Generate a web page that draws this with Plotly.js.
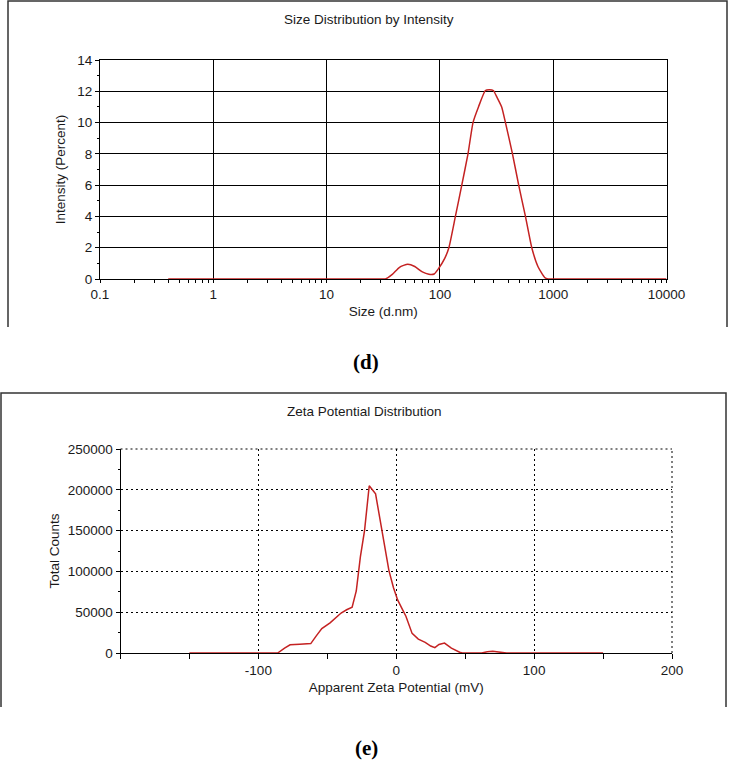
<!DOCTYPE html>
<html>
<head>
<meta charset="utf-8">
<script src="https://cdn.plot.ly/plotly-3.0.1.min.js"></script>
<style>
html,body{margin:0;padding:0;background:#fff;}
#chart{width:729px;height:764px;}
</style>
</head>
<body>
<div id="chart"></div>
<script>
// ---- Data: Size distribution by intensity (panel d) ----
const sizeNm = [0.4, 1, 10, 30, 33, 38, 44, 52, 60, 70, 80, 89, 98, 110, 120, 137, 156, 177, 196, 219, 252, 274, 296, 320, 351, 379, 437, 496, 569, 647, 733, 840, 900, 1000, 10000];
const intensityPct = [0, 0, 0, 0, 0, 0.3, 0.75, 0.95, 0.8, 0.45, 0.3, 0.32, 0.7, 1.3, 2.0, 4.0, 6.0, 8.0, 10.0, 11.0, 12.05, 12.1, 12.05, 11.6, 11.0, 10.0, 8.0, 6.0, 4.0, 2.0, 0.8, 0.1, 0, 0, 0];
const sizeTickVals = [0.1, 1, 10, 100, 1000, 10000];
const sizeTickText = ['0.1', '1', '10', '100', '1000', '10000'];

// ---- Data: Zeta potential distribution (panel e) ----
const zetaMv = [-150, -86, -81, -77, -70, -64, -62, -58, -54, -48, -44, -40, -36, -32, -29, -26, -23, -19.6, -15, -10, -5.3, -2, 1, 4, 7, 11.5, 16, 21, 25, 28, 31, 35, 40, 46, 48, 62, 66, 70, 74, 80, 150];
const totalCounts = [0, 0, 6000, 10000, 10800, 11000, 11500, 21000, 30000, 37000, 43000, 49000, 53000, 56000, 76000, 118000, 150000, 205000, 195000, 146000, 101000, 80000, 65000, 55000, 45000, 24000, 17000, 13000, 8500, 6500, 10500, 12200, 6000, 1000, 0, 0, 1500, 2000, 1500, 0, 0];
const zetaTickVals = [-100, 0, 100, 200];
const zetaTickText = ['-100', '0', '100', '200'];

// ---- Layout helpers (pixel -> paper) ----
const W = 729, H = 764;
const px = x => x / W;
const py = y => 1 - y / H;

const FONT = 'Liberation Sans, Arial, sans-serif';
const tickFont = {family: FONT, size: 13.5, color: '#1a1a1a'};
const titleFont = {family: FONT, size: 13.5, color: '#1a1a1a'};
const lineColor = '#c42222';
const DOTS = '2px,3px';

const minorSize = [];
[0.1, 1, 10, 100, 1000].forEach(d => { for (let k = 2; k <= 9; k++) minorSize.push(d * k); });

const topX = [px(100), px(666.5)];
const topY = [py(279), py(60)];
const botX = [px(120.5), px(672)];
const botY = [py(653), py(449)];

const traces = [
  {x: sizeNm, y: intensityPct, xaxis: 'x', yaxis: 'y', type: 'scatter', mode: 'lines',
   line: {color: lineColor, width: 1.5, shape: 'spline', smoothing: 0.5}, hoverinfo: 'x+y'},
  {x: zetaMv, y: totalCounts, xaxis: 'x2', yaxis: 'y2', type: 'scatter', mode: 'lines',
   line: {color: lineColor, width: 1.5}, hoverinfo: 'x+y'}
];

const layout = {
  width: W, height: H,
  margin: {l: 0, r: 0, t: 0, b: 0},
  paper_bgcolor: '#fff', plot_bgcolor: '#fff',
  showlegend: false,
  font: {family: FONT, color: '#1a1a1a'},
  // ---- panel d axes ----
  xaxis: {
    domain: topX, anchor: 'y', type: 'log', range: [-1, 4],
    tickvals: sizeTickVals, ticktext: sizeTickText, tickfont: tickFont,
    ticks: 'outside', ticklen: 3, tickcolor: '#000',
    minor: {tickvals: minorSize, ticks: 'outside', ticklen: 3, tickcolor: '#000', showgrid: false},
    showline: true, linecolor: '#000', linewidth: 1, mirror: true,
    showgrid: true, gridcolor: '#000', gridwidth: 1, zeroline: false,
    title: {text: 'Size (d.nm)', font: titleFont, standoff: 5}
  },
  yaxis: {
    domain: topY, anchor: 'x', range: [0, 14], dtick: 2, tickfont: tickFont,
    ticks: 'outside', ticklen: 4, tickcolor: '#000',
    minor: {dtick: 1, ticks: 'outside', ticklen: 2, tickcolor: '#000', showgrid: false},
    showline: true, linecolor: '#000', linewidth: 1, mirror: true,
    showgrid: true, gridcolor: '#000', gridwidth: 1, zeroline: false,
    title: {text: 'Intensity (Percent)', font: titleFont, standoff: 8}
  },
  xaxis3: {
    overlaying: 'x', anchor: 'y', type: 'log', range: [-1, 4], side: 'bottom',
    tickvals: [], showticklabels: false,
    minor: {tickvals: minorSize, ticks: 'inside', ticklen: 3, tickcolor: '#000', showgrid: false},
    showline: false, showgrid: false, zeroline: false
  },
  yaxis3: {
    overlaying: 'y', anchor: 'x', range: [0, 14], side: 'left',
    tickvals: [], showticklabels: false,
    minor: {dtick: 1, ticks: 'inside', ticklen: 4, tickcolor: '#000', showgrid: false},
    showline: false, showgrid: false, zeroline: false
  },
  // ---- panel e axes ----
  xaxis2: {
    domain: botX, anchor: 'y2', range: [-200, 200],
    tickvals: zetaTickVals, ticktext: zetaTickText, tickfont: tickFont,
    ticks: 'outside', ticklen: 5, tickcolor: '#000',
    minor: {dtick: 50, tick0: -200, ticks: 'outside', ticklen: 5, tickcolor: '#000', showgrid: false},
    showline: true, linecolor: '#000', linewidth: 1, mirror: false,
    showgrid: true, gridcolor: '#000', gridwidth: 1, griddash: DOTS, zeroline: false,
    title: {text: 'Apparent Zeta Potential (mV)', font: titleFont, standoff: 5}
  },
  yaxis2: {
    domain: botY, anchor: 'x2', range: [0, 250000], dtick: 50000, tickformat: 'd', tickfont: tickFont,
    ticks: 'outside', ticklen: 4, tickcolor: '#000',
    minor: {dtick: 25000, ticks: 'outside', ticklen: 2, tickcolor: '#000', showgrid: false},
    showline: true, linecolor: '#000', linewidth: 1, mirror: false,
    showgrid: true, gridcolor: '#000', gridwidth: 1, griddash: DOTS, zeroline: false,
    title: {text: 'Total Counts', font: titleFont, standoff: 5}
  },
  xaxis4: {
    overlaying: 'x2', anchor: 'y2', range: [-200, 200], side: 'bottom',
    tickvals: [], showticklabels: false,
    minor: {dtick: 50, tick0: -200, ticks: 'inside', ticklen: 5, tickcolor: '#000', showgrid: false},
    showline: false, showgrid: false, zeroline: false
  },
  yaxis4: {
    overlaying: 'y2', anchor: 'x2', range: [0, 250000], side: 'left',
    tickvals: [], showticklabels: false,
    minor: {dtick: 25000, ticks: 'inside', ticklen: 5, tickcolor: '#000', showgrid: false},
    showline: false, showgrid: false, zeroline: false
  },
  annotations: [
    {text: 'Size Distribution by Intensity', xref: 'paper', yref: 'paper', x: px(369), y: py(20),
     xanchor: 'center', yanchor: 'middle', showarrow: false, font: {family: FONT, size: 13.5, color: '#1a1a1a'}},
    {text: 'Zeta Potential Distribution', xref: 'paper', yref: 'paper', x: px(364), y: py(411),
     xanchor: 'center', yanchor: 'middle', showarrow: false, font: {family: FONT, size: 13.5, color: '#1a1a1a'}},
    {text: '<b>(d)</b>', xref: 'paper', yref: 'paper', x: px(366), y: py(362),
     xanchor: 'center', yanchor: 'middle', showarrow: false, font: {family: 'Liberation Serif, Times New Roman, serif', size: 21, color: '#000'}},
    {text: '<b>(e)</b>', xref: 'paper', yref: 'paper', x: px(366), y: py(748),
     xanchor: 'center', yanchor: 'middle', showarrow: false, font: {family: 'Liberation Serif, Times New Roman, serif', size: 21, color: '#000'}}
  ],
  shapes: [
    // outer panel frames
    {type: 'path', xref: 'paper', yref: 'paper',
     path: `M ${px(8)} ${py(327)} L ${px(8)} ${py(1)} L ${px(727)} ${py(1)} L ${px(727)} ${py(327)}`,
     line: {color: '#333', width: 1.5}},
    {type: 'path', xref: 'paper', yref: 'paper',
     path: `M ${px(1)} ${py(707)} L ${px(1)} ${py(393)} L ${px(726)} ${py(393)} L ${px(726)} ${py(707)}`,
     line: {color: '#333', width: 1.5}},
    // dotted top and right edges of the zeta plot area
    {type: 'line', xref: 'x2 domain', yref: 'y2 domain', x0: 0, x1: 1, y0: 1, y1: 1,
     line: {color: '#000', width: 1, dash: DOTS}},
    {type: 'line', xref: 'x2 domain', yref: 'y2 domain', x0: 1, x1: 1, y0: 0, y1: 1,
     line: {color: '#000', width: 1, dash: DOTS}}
  ]
};

Plotly.newPlot('chart', traces, layout, {displayModeBar: false, staticPlot: true});
</script>
</body>
</html>
